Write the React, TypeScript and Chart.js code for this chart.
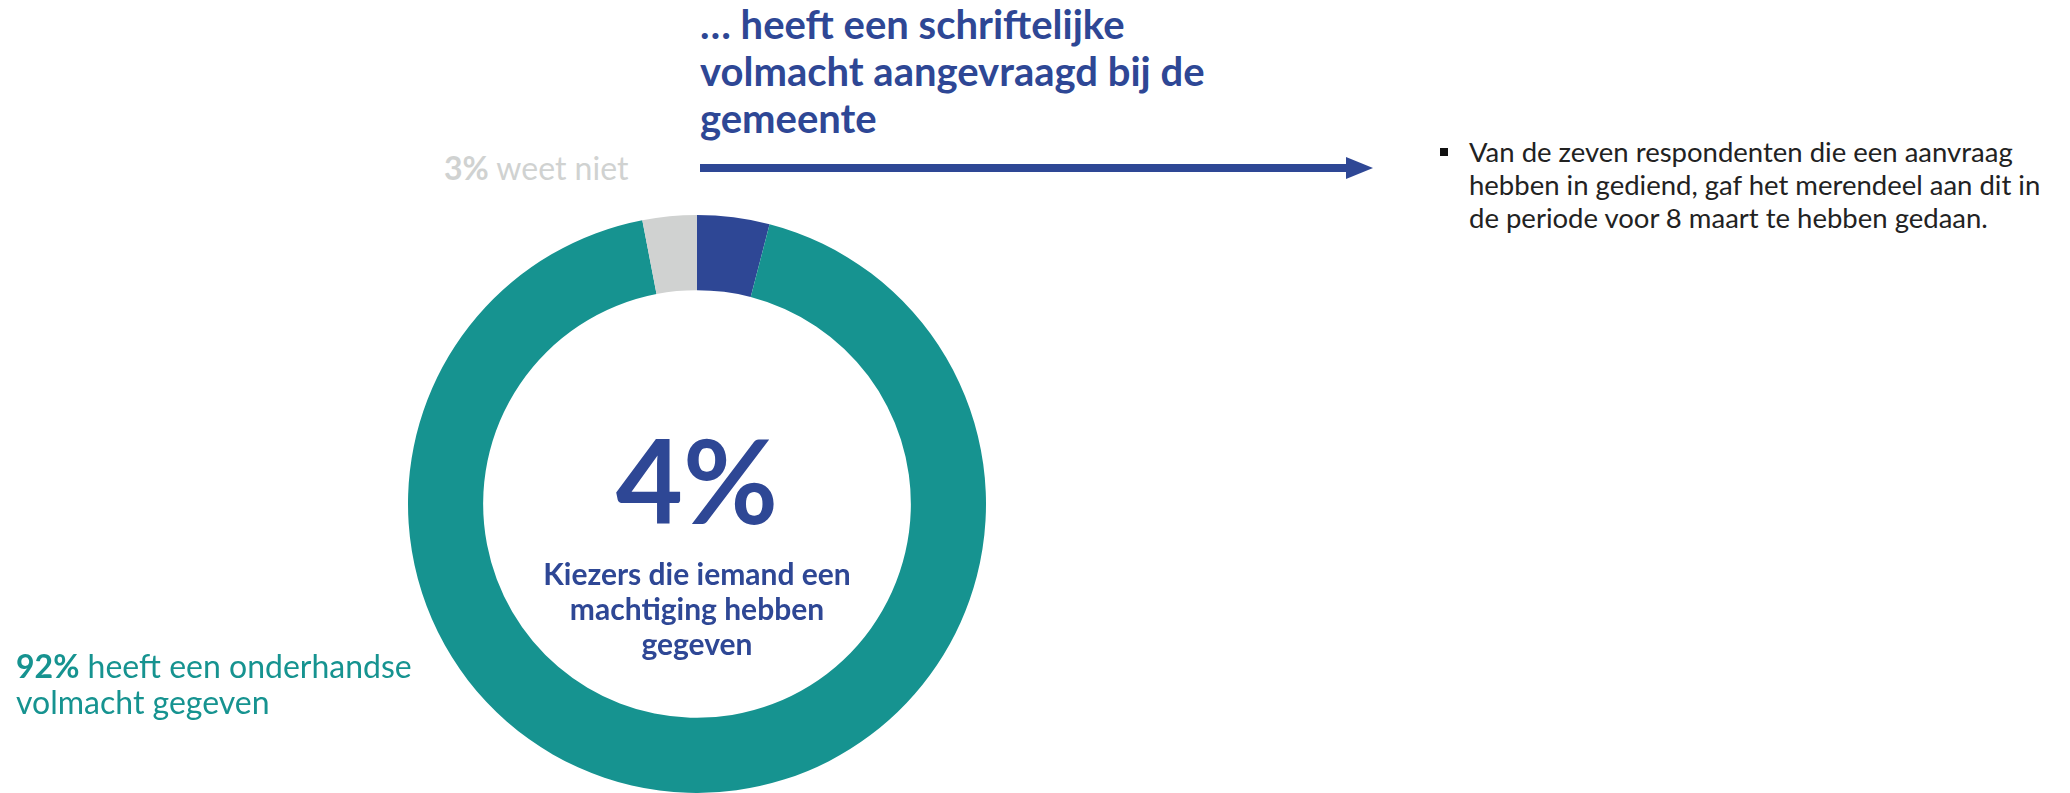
import React, { useEffect, useRef } from "react";
import { Chart, registerables } from "chart.js";

Chart.register(...registerables);

// ---- data ----
const categories = [
  "heeft een schriftelijke volmacht aangevraagd bij de gemeente",
  "heeft een onderhandse volmacht gegeven",
  "weet niet",
];
const shares = [4, 92, 3];
const sliceColors = ["#2E4795", "#169390", "#D0D2D1"];

const titleLines = ["… heeft een schriftelijke", "volmacht aangevraagd bij de", "gemeente"];
const centerValue = "4%";
const centerLines = ["Kiezers die iemand een", "machtiging hebben", "gegeven"];
const tealLines = ["heeft een onderhandse", "volmacht gegeven"];
const grayLabel = "weet niet";
const noteLines = [
  "Van de zeven respondenten die een aanvraag",
  "hebben in gediend, gaf het merendeel aan dit in",
  "de periode voor 8 maart te hebben gedaan.",
];

const FONT = "Lato, 'Open Sans', sans-serif";
const BLUE = "#2E4795";
const TEAL = "#169390";
const GRAY = "#D0D2D1";

export default function App() {
  const ref = useRef<HTMLCanvasElement | null>(null);

  useEffect(() => {
    const canvas = ref.current;
    if (!canvas) return;
    const chart = new Chart(canvas, {
      type: "doughnut",
      data: {
        labels: categories,
        datasets: [
          {
            data: shares,
            backgroundColor: sliceColors,
            borderWidth: 0,
          },
        ],
      },
      options: {
        responsive: false,
        animation: false,
        cutout: "74%",
        rotation: 0,
        layout: { padding: 0 },
        plugins: {
          legend: { display: false },
          tooltip: { enabled: false },
        },
      },
    });
    return () => chart.destroy();
  }, []);

  return (
    <div
      style={{
        position: "fixed",
        left: 0,
        top: 0,
        width: 2070,
        height: 793,
        background: "#fff",
        overflow: "hidden",
        fontFamily: FONT,
      }}
    >
      <canvas
        ref={ref}
        width={578}
        height={578}
        style={{ position: "absolute", left: 408, top: 215, width: 578, height: 578 }}
      />

      {/* title */}
      <div
        style={{
          position: "absolute",
          left: 700,
          top: 1,
          color: BLUE,
          fontWeight: 700,
          fontSize: 40,
          lineHeight: "47px",
          whiteSpace: "nowrap",
        }}
      >
        {titleLines.map((l, i) => (
          <div key={i}>{l}</div>
        ))}
      </div>

      {/* arrow */}
      <svg
        width={700}
        height={40}
        style={{ position: "absolute", left: 698, top: 148 }}
      >
        <rect x={2} y={16} width={652} height={8} fill={BLUE} />
        <polygon points="648,9 675,20 648,31" fill={BLUE} />
      </svg>

      {/* gray label */}
      <div
        style={{
          position: "absolute",
          left: 444,
          top: 149,
          color: GRAY,
          fontSize: 32,
          lineHeight: "38px",
          whiteSpace: "nowrap",
        }}
      >
        <b>{shares[2]}%</b> {grayLabel}
      </div>

      {/* teal label */}
      <div
        style={{
          position: "absolute",
          left: 16,
          top: 648,
          color: TEAL,
          fontSize: 32,
          lineHeight: "36px",
          whiteSpace: "nowrap",
        }}
      >
        <div>
          <b>{shares[1]}%</b> {tealLines[0]}
        </div>
        <div>{tealLines[1]}</div>
      </div>

      {/* center */}
      <div
        style={{
          position: "absolute",
          left: 697 - 200,
          top: 405,
          width: 400,
          textAlign: "center",
          color: BLUE,
          fontWeight: 700,
          fontSize: 116,
          lineHeight: "150px",
        }}
      >
        {centerValue}
      </div>
      <div
        style={{
          position: "absolute",
          left: 697 - 250,
          top: 556,
          width: 500,
          textAlign: "center",
          color: BLUE,
          fontWeight: 700,
          fontSize: 30,
          lineHeight: "35px",
        }}
      >
        {centerLines.map((l, i) => (
          <div key={i}>{l}</div>
        ))}
      </div>

      {/* note */}
      <div
        style={{
          position: "absolute",
          left: 1436,
          top: 135,
          color: "#222",
          fontSize: 27.5,
          lineHeight: "33px",
          whiteSpace: "nowrap",
        }}
      >
        <div
          style={{
            position: "absolute",
            left: 4,
            top: 13,
            width: 8,
            height: 8,
            background: "#111",
          }}
        />
        <div style={{ paddingLeft: 33 }}>
          {noteLines.map((l, i) => (
            <div key={i}>{l}</div>
          ))}
        </div>
      </div>
    </div>
  );
}
